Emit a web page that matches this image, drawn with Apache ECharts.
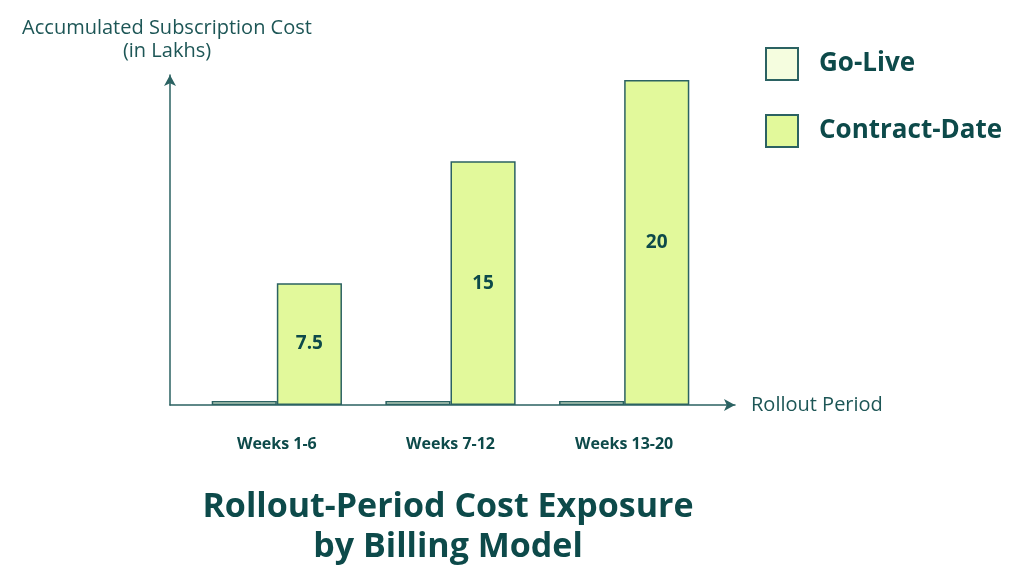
<!DOCTYPE html>
<html>
<head>
<meta charset="utf-8">
<script src="https://cdn.jsdelivr.net/npm/echarts@6/dist/echarts.min.js"></script>
<style>
  html, body { margin: 0; padding: 0; background: #fff; }
  #chart { width: 1024px; height: 584px; }
</style>
</head>
<body>
<div id="chart"></div>
<script>
const categories = ['Weeks 1-6', 'Weeks 7-12', 'Weeks 13-20']
const goLive = [0.25, 0.25, 0.25]
const contractDate = [7.5, 15, 20]

const textcolor = '#0d4a4a'
const edge = '#2b6262'

let myChart = echarts.init(document.getElementById('chart'))
myChart.setOption({
  animation: false,
  textStyle: { fontFamily: 'Open Sans' },
  title: {
    text: 'Rollout-Period Cost Exposure\nby Billing Model',
    left: 443,
    top: 482,
    textAlign: 'center',
    textStyle: {
      fontSize: 34,
      fontWeight: 'bold',
      lineHeight: 40,
      color: textcolor,
    },
  },
  legend: {
    orient: 'vertical',
    left: 765,
    top: 47,
    padding: 0,
    itemWidth: 32,
    itemHeight: 32,
    itemGap: 33,
    icon: 'rect',
    textStyle: {
      fontSize: 26,
      fontWeight: 'bold',
      color: textcolor,
      padding: [0, 0, 0, 16],
    },
    data: ['Go-Live', 'Contract-Date'],
  },
  grid: [
    { left: 190, right: 313, top: 80, bottom: 179 },
    { left: 170, right: 289, top: 75, bottom: 179 },
  ],
  xAxis: [
    {
      gridIndex: 0,
      type: 'category',
      data: categories,
      axisLine: { show: false },
      axisTick: { show: false },
      axisLabel: {
        margin: 31,
        fontSize: 16,
        fontWeight: 'bold',
        color: textcolor,
      },
    },
    {
      gridIndex: 1,
      type: 'value',
      min: 0,
      max: 1,
      axisLabel: { show: false },
      axisTick: { show: false },
      splitLine: { show: false },
      axisLine: {
        show: true,
        symbol: ['none', 'arrow'],
        symbolSize: [9, 11],
        lineStyle: { color: edge, width: 1.5 },
      },
      name: 'Rollout Period',
      nameLocation: 'end',
      nameGap: 16,
      nameTextStyle: { fontSize: 20, color: '#1d5656' },
    },
  ],
  yAxis: [
    {
      gridIndex: 0,
      type: 'value',
      min: 0,
      max: 20,
      show: false,
    },
    {
      gridIndex: 1,
      type: 'value',
      min: 0,
      max: 1,
      axisLabel: { show: false },
      axisTick: { show: false },
      splitLine: { show: false },
      axisLine: {
        show: true,
        symbol: ['none', 'arrow'],
        symbolSize: [9, 11],
        lineStyle: { color: edge, width: 1.5 },
      },
      name: 'Accumulated Subscription Cost\n(in Lakhs)',
      nameLocation: 'end',
      nameGap: 12,
      nameTextStyle: {
        fontSize: 20,
        lineHeight: 23,
        align: 'center',
        color: '#1d5656',
        padding: [0, 6, 0, 0],
      },
    },
  ],
  series: [
    {
      name: 'Go-Live',
      type: 'bar',
      xAxisIndex: 0,
      yAxisIndex: 0,
      data: goLive,
      barGap: '0%',
      barCategoryGap: '25%',
      itemStyle: { color: '#f5fddf', borderColor: edge, borderWidth: 1.5 },
    },
    {
      name: 'Contract-Date',
      type: 'bar',
      xAxisIndex: 0,
      yAxisIndex: 0,
      data: contractDate,
      barGap: '0%',
      barCategoryGap: '25%',
      itemStyle: { color: '#e2f99b', borderColor: edge, borderWidth: 1.5 },
      label: {
        show: true,
        position: 'inside',
        fontSize: 19,
        fontWeight: 'bold',
        color: textcolor,
      },
    },
  ],
})
</script>
</body>
</html>
